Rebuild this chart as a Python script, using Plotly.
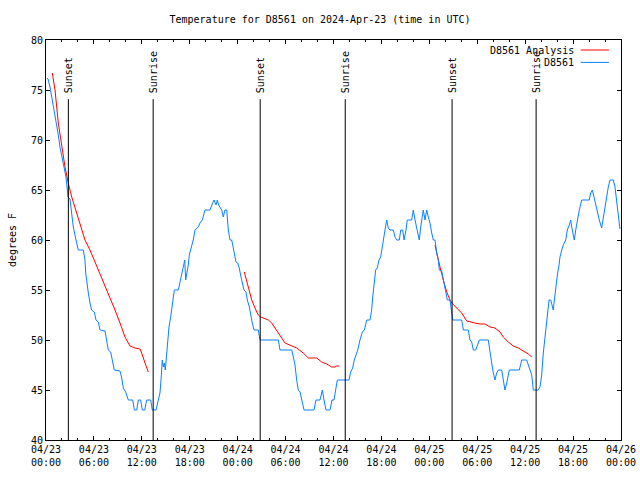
import pandas as pd
import plotly.graph_objects as go

# ---------------- data (hours since 2024-04-23 00:00 UTC, degrees F) ----------------
obs_hours = [0.12, 0.25, 0.5, 0.75, 1.0, 1.25, 1.5, 1.75, 2.0, 2.25, 2.5, 2.67, 2.75, 3.0, 3.25, 3.42,
             3.76, 3.92, 4.04, 4.67, 4.88, 4.97, 5.1, 5.3, 5.51, 5.72, 6.05, 6.26, 6.55, 6.76, 7.39,
             7.6, 7.8, 8.1, 8.35, 8.55, 9.27, 9.48, 9.68, 9.98, 10.18, 10.31, 10.86, 11.06, 11.36,
             11.56, 11.86, 12.06, 12.36, 12.61, 13.11, 13.31, 13.77, 14.06, 14.27, 14.4, 14.56,
             14.69, 14.81, 14.94, 15.11, 15.28, 15.4, 15.61, 15.82, 15.99, 16.07, 16.57, 16.78,
             16.99, 17.19, 17.37, 17.49, 17.62, 17.82, 17.94, 18.12, 18.32, 18.44, 18.66, 19.07,
             19.28, 19.57, 19.91, 20.54, 20.87, 21.04, 21.29, 21.45, 21.62, 21.79, 22.0, 22.2,
             22.41, 22.63, 22.83, 23.04, 23.25, 23.38, 23.58, 23.79, 24.0, 24.2, 24.42, 24.63,
             24.79, 25.04, 25.21, 25.46, 25.63, 25.83, 26.05, 26.58, 26.8, 29.09, 29.3, 30.77,
             30.97, 31.18, 31.39, 31.59, 31.81, 32.02, 32.31, 33.56, 33.81, 34.31, 34.6, 34.81,
             35.06, 35.56, 35.81, 36.06, 36.23, 36.48, 37.94, 38.15, 38.4, 38.6, 38.82, 39.03,
             39.32, 39.61, 39.86, 40.16, 40.57, 40.78, 40.91, 41.07, 41.28, 41.48, 41.7, 41.91,
             42.11, 42.24, 42.45, 42.66, 42.86, 43.08, 43.49, 43.7, 43.91, 44.24, 44.42, 44.67,
             44.83, 45.08, 45.24, 45.79, 45.99, 46.21, 46.49, 46.74, 46.92, 47.08, 47.24, 47.46,
             47.67, 47.87, 48.08, 48.3, 48.5, 48.71, 48.84, 48.92, 49.12, 49.25, 49.55, 49.67,
             49.84, 49.96, 50.09, 50.25, 50.59, 50.8, 50.93, 52.05, 52.26, 52.88, 53.09, 53.3,
             53.51, 53.81, 54.01, 54.26, 55.38, 55.6, 55.81, 56.01, 56.22, 56.43, 56.64, 57.06,
             57.26, 57.47, 57.69, 57.89, 58.01, 59.27, 59.44, 59.57, 60.19, 60.39, 60.61, 60.82,
             61.02, 61.64, 61.86, 62.07, 62.27, 62.48, 62.7, 62.82, 62.99, 63.2, 63.32, 63.52,
             63.61, 63.82, 64.03, 64.24, 64.36, 64.58, 64.78, 65.08, 65.28, 65.53, 65.7, 65.83,
             65.96, 66.15, 66.33, 66.53, 66.78, 67.08, 68.03, 68.2, 68.41, 68.62, 68.87, 69.08,
             69.28, 69.58, 69.78, 70.0, 70.21, 70.41, 70.62, 71.03, 71.25, 71.46, 71.66, 71.87]
obs_temps = [76.2, 76.1, 75.3, 74.2, 72.8, 72.0, 70.7, 69.3, 68.3, 67.3, 66.3, 65.0, 64.3, 64.1, 62.7, 61.3,
             60.0, 59.3, 59.0, 59.0, 58.0, 56.7, 55.7, 54.7, 53.7, 53.0, 52.8, 52.0, 51.8, 51.0, 50.9,
             50.0, 49.0, 48.8, 47.7, 47.0, 46.9, 46.2, 45.2, 44.8, 44.3, 44.0, 44.0, 43.0, 43.0,
             44.0, 44.0, 43.0, 43.0, 44.0, 44.0, 43.0, 43.0, 44.0, 44.7, 46.0, 48.0,
             47.3, 47.7, 47.0, 48.7, 50.2, 51.3, 52.3, 53.5, 54.7, 55.0, 55.0, 55.8,
             56.7, 57.5, 58.0, 56.0, 56.5, 57.5, 58.5, 59.0, 59.5, 60.0, 61.0, 61.3,
             61.7, 62.0, 63.0, 63.0, 63.7, 64.0, 63.5, 64.0, 63.5, 63.2, 63.0, 62.3,
             63.0, 63.0, 61.0, 60.0, 60.0, 59.5, 58.7, 57.8, 57.7, 57.2, 56.3, 55.7,
             55.0, 54.8, 54.0, 53.3, 52.5, 51.7, 51.0, 51.0, 50.0, 50.0, 49.0, 49.0,
             48.3, 47.5, 46.0, 45.0, 44.8, 44.0, 43.0, 43.0, 44.0, 44.0, 45.0, 44.0,
             43.0, 43.0, 44.0, 44.0, 45.0, 46.0, 46.0, 46.8, 47.2, 48.0, 48.5, 49.0,
             50.0, 50.8, 51.0, 52.0, 52.0, 53.0, 54.3, 55.7, 57.0, 57.2, 58.0, 58.3,
             59.5, 60.0, 61.0, 62.0, 61.2, 61.0, 61.0, 60.3, 60.0, 60.0, 61.0, 61.0,
             60.0, 61.0, 62.0, 62.0, 63.0, 62.0, 61.0, 60.0, 61.3, 62.0, 63.0, 62.0,
             63.0, 62.3, 61.7, 60.7, 60.0, 60.0, 59.0, 58.7, 58.0, 57.0, 56.9, 56.3,
             55.7, 55.2, 54.7, 54.0, 54.0, 52.8, 52.0, 52.0, 51.0, 51.0, 50.0, 49.8,
             49.0, 49.0, 49.5, 50.0, 50.0, 49.0, 47.7, 46.7, 46.0, 46.7, 47.0, 47.0,
             46.0, 45.0, 45.7, 46.7, 47.0, 47.0, 47.7, 48.0, 48.0, 47.5, 47.0, 46.5,
             45.0, 45.0, 45.3, 46.5, 48.7, 50.3, 51.5, 52.5, 54.0, 54.0, 53.5, 53.0,
             53.7, 55.2, 56.5, 57.5, 58.3, 59.0, 59.5, 60.0, 61.0, 61.5, 62.0, 61.3,
             60.7, 60.0, 61.0, 62.0, 63.0, 64.0, 64.0, 64.7, 65.0, 64.3, 63.3, 62.7,
             62.0, 61.2, 62.3, 63.3, 64.3, 65.3, 66.0, 66.0, 65.3, 64.0, 62.7, 61.1]

analysis1_hours = [0.79, 1.13, 1.54, 1.97, 2.38, 2.79, 3.22, 3.84, 4.47, 4.88, 5.51, 6.14, 6.76,
                   7.39, 8.01, 8.64, 9.27, 9.89, 10.52, 11.14, 11.77, 11.98, 12.4, 12.81]
analysis1_temps = [76.7, 75.0, 71.7, 69.3, 67.3, 65.7, 64.3, 62.7, 61.0, 60.0, 59.0, 57.8, 56.7,
                   55.5, 54.3, 53.0, 51.7, 50.3, 49.4, 49.2, 49.1, 48.7, 47.7, 46.8]
analysis2_hours = [24.83, 25.13, 25.46, 25.76, 26.17, 26.58, 26.88, 27.42, 27.84, 28.26, 28.89,
                   29.51, 29.93, 30.77, 31.39, 32.22, 32.85, 33.9, 34.52, 35.15, 35.78, 36.19,
                   36.4, 36.73]
analysis2_temps = [56.8, 55.8, 54.8, 54.0, 53.2, 52.5, 52.3, 52.1, 52.0, 51.7, 51.0,
                   50.2, 49.7, 49.4, 49.2, 48.7, 48.2, 48.2, 47.8, 47.6, 47.3, 47.3,
                   47.4, 47.4]
analysis3_hours = [48.71, 48.92, 49.34, 49.75, 50.18, 50.59, 50.93, 51.43, 52.05, 52.68, 53.09,
                   53.72, 54.35, 54.97, 55.6, 56.22, 56.85, 57.26, 57.89, 58.52, 59.14, 59.77,
                   60.39, 60.82]
analysis3_temps = [59.5, 58.7, 57.3, 56.0, 54.8, 54.0, 53.6, 53.2, 52.7, 51.9, 51.8,
                   51.7, 51.6, 51.6, 51.3, 51.2, 50.8, 50.3, 49.8, 49.4, 49.2, 48.9,
                   48.6, 48.3]

sun_event_hours = [2.8, 13.42, 26.82, 37.47, 50.85, 61.37]
sun_event_labels = ["Sunset", "Sunrise", "Sunset", "Sunrise", "Sunset", "Sunrise"]

y_ticks = [40, 45, 50, 55, 60, 65, 70, 75, 80]
title_text = "Temperature for D8561 on 2024-Apr-23 (time in UTC)"
series_names = ["D8561 Analysis", "D8561"]

# ---------------- build ----------------
BASE = pd.Timestamp("2024-04-23 00:00")


def to_time(hours):
    return [BASE + pd.Timedelta(hours=h) for h in hours]


RED = "#ff0000"
BLUE = "#0a80ff"
FONT = "DejaVu Sans Mono"

an_x, an_y = [], []
for hs, ts in [(analysis1_hours, analysis1_temps), (analysis2_hours, analysis2_temps),
               (analysis3_hours, analysis3_temps)]:
    an_x += to_time(hs) + [None]
    an_y += ts + [None]

fig = go.Figure()
fig.add_trace(go.Scatter(x=an_x, y=an_y, mode="lines", name=series_names[0],
                         line=dict(color=RED, width=1), connectgaps=False))
fig.add_trace(go.Scatter(x=to_time(obs_hours), y=obs_temps, mode="lines", name=series_names[1],
                         line=dict(color=BLUE, width=1)))

for h, lab in zip(sun_event_hours, sun_event_labels):
    t = BASE + pd.Timedelta(hours=h)
    fig.add_shape(type="line", xref="x", yref="paper", x0=t, x1=t, y0=0, y1=0.852,
                  line=dict(color="black", width=1))
    fig.add_annotation(x=t, xref="x", yref="paper", y=0.8625, text=lab, textangle=-90,
                       showarrow=False, xanchor="center", yanchor="bottom", xshift=1,
                       font=dict(family=FONT, size=10, color="black"))

# custom gnuplot-style legend (text right-aligned, sample line to its right)
for i, (name, col) in enumerate(zip(series_names, [RED, BLUE])):
    yy = 0.975 - i * 0.031
    fig.add_annotation(x=0.922, y=yy, xref="paper", yref="paper", text=name, showarrow=False,
                       xanchor="right", yanchor="middle", font=dict(family=FONT, size=10, color="black"))
    fig.add_shape(type="line", xref="paper", yref="paper", x0=0.93, x1=0.979, y0=yy, y1=yy,
                  line=dict(color=col, width=1))

fig.update_layout(
    width=640, height=480,
    margin=dict(l=46, r=19, t=40, b=40, autoexpand=False),
    paper_bgcolor="white", plot_bgcolor="white",
    showlegend=False, hovermode=False,
    font=dict(family=FONT, size=10, color="black"),
    title=dict(text=title_text, x=0.5, xanchor="center", y=1 - 19 / 480, yanchor="middle",
               automargin=False, font=dict(family=FONT, size=10, color="black")),
)
fig.update_xaxes(
    type="date", automargin=False,
    range=[BASE, BASE + pd.Timedelta(hours=72)],
    dtick=6 * 3600 * 1000, tick0=BASE,
    tickformat="%m/%d<br>%H:%M",
    ticks="inside", ticklen=4, tickwidth=1, tickcolor="black",
    minor=dict(dtick=2 * 3600 * 1000, ticks="inside", ticklen=2, tickcolor="black", showgrid=False),
    showline=True, linecolor="black", linewidth=1, mirror="ticks",
    showgrid=False, zeroline=False,
    tickfont=dict(family=FONT, size=10, color="black"),
)
fig.update_yaxes(
    automargin=False,
    range=[40, 80], tickvals=y_ticks, ticktext=[str(v) for v in y_ticks],
    ticks="inside", ticklen=4, tickwidth=1, tickcolor="black",
    showline=True, linecolor="black", linewidth=1, mirror="ticks",
    showgrid=False, zeroline=False,
    title=dict(text="degrees F", standoff=12, font=dict(family=FONT, size=10, color="black")),
    tickfont=dict(family=FONT, size=10, color="black"),
)

fig.write_html("out.html", config={"displayModeBar": False, "staticPlot": True},
               post_script="document.body.style.margin='0';document.body.style.overflow='hidden';")
